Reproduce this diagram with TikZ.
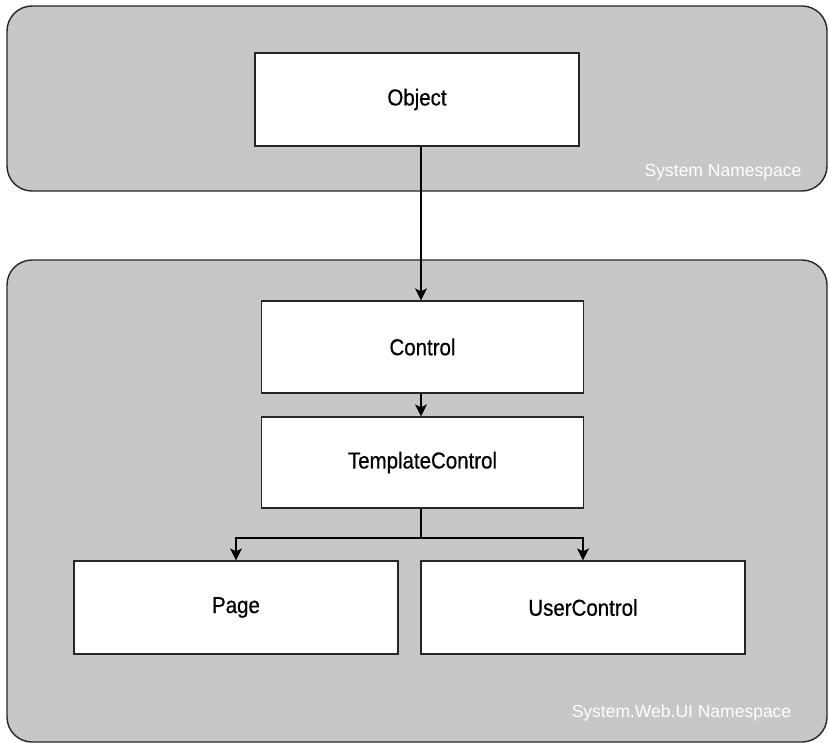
\documentclass[tikz,border=0pt]{standalone}
\usepackage{fontspec}
\setmainfont{Liberation Sans}[FakeStretch=0.89,FakeBold=0.6]
\newfontfamily\nsfont{Liberation Sans}
\usetikzlibrary{arrows.meta}
\definecolor{panelgray}{HTML}{C6C7C6}
\tikzset{
  panel/.style={draw=black!85, line width=1.4pt, fill=panelgray, rounded corners=25pt},
  classbox/.style={draw=black!85, line width=1.3pt, fill=white, minimum width=322pt,
    font=\fontsize{23}{26}\selectfont},
  nslabel/.style={text=white, font=\nsfont\fontsize{17.5}{20}\selectfont},
  conn/.style={line width=1.8pt, -{Stealth[length=12pt,width=12pt,inset=3pt]}},
  plain/.style={line width=1.8pt}
}
\begin{document}
\begin{tikzpicture}[x=1pt,y=-1pt]
\useasboundingbox (0,0) rectangle (829,743);
\draw[panel] (7,6) rectangle (827,191);
\draw[panel] (7,260) rectangle (827,742);
\node[nslabel] (ns1) at (723,172) {System Namespace};
\node[nslabel] (ns2) at (681.5,713) {System.Web.UI Namespace};
\node[classbox, minimum width=324pt, minimum height=93pt] (obj) at (417,99.5) {Object};
\node[classbox, minimum height=92pt] (ctl) at (422.5,347) {Control};
\node[classbox, minimum height=91pt] (tpl) at (422.5,462.5) {TemplateControl};
\node[classbox, minimum width=324pt, minimum height=93pt] (page) at (236,607.5) {Page};
\node[classbox, minimum width=324pt, minimum height=93pt] (uc) at (583,607.5) {UserControl};
\coordinate (top) at (421,0);
\coordinate (j) at (421,538);
\draw[conn] (top |- obj.south) -- (top |- ctl.north);
\draw[conn] (top |- ctl.south) -- (top |- tpl.north);
\draw[plain] (top |- tpl.south) -- (j);
\draw[conn] (j) -| (page.north);
\draw[conn] (j) -| (uc.north);
\end{tikzpicture}
\end{document}
